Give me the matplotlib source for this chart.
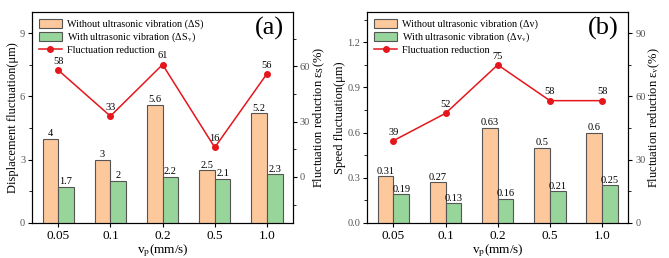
import numpy as np
import matplotlib.pyplot as plt
from matplotlib.ticker import MultipleLocator

plt.rcParams['font.family'] = ['Liberation Serif', 'DejaVu Serif']
plt.rcParams['mathtext.fontset'] = 'stix'

speeds = ['0.05', '0.1', '0.2', '0.5', '1.0']

# panel (a): displacement
disp_without = [4, 3, 5.6, 2.5, 5.2]
disp_with = [1.7, 2, 2.2, 2.1, 2.3]
disp_reduction = [58, 33, 61, 16, 56]

# panel (b): speed
speed_without = [0.31, 0.27, 0.63, 0.5, 0.6]
speed_with = [0.19, 0.13, 0.16, 0.21, 0.25]
speed_reduction = [39, 52, 75, 58, 58]

orange = '#FDC89B'
green = '#98D59A'
red = '#E5161C'
edge = '#555555'

fig = plt.figure(figsize=(6.69, 2.58), dpi=100)
ax_a = fig.add_axes([0.048, 0.136, 0.390, 0.817])
ax_b = fig.add_axes([0.549, 0.136, 0.390, 0.817])


def draw_panel(ax, without, with_, reduction, ylim, ymajor, rlim, lbls, ylabel, rlabel, tag):
    x = np.arange(len(speeds))
    w = 0.3
    b1 = ax.bar(x - w / 2, without, w, color=orange, edgecolor=edge, linewidth=0.8, zorder=2)
    b2 = ax.bar(x + w / 2, with_, w, color=green, edgecolor=edge, linewidth=0.8, zorder=2)
    ax.bar_label(b1, labels=[f'{v:g}' for v in without], padding=0.5, fontsize=7.5)
    ax.bar_label(b2, labels=[f'{v:g}' for v in with_], padding=0.5, fontsize=7.5)
    ax.set_xlim(-0.5, 4.5)
    ax.set_ylim(*ylim)
    ax.set_xticks(x)
    ax.set_xticklabels(speeds, fontsize=9.5)
    ax.yaxis.set_major_locator(MultipleLocator(ymajor))
    ax.yaxis.set_minor_locator(MultipleLocator(ymajor / 2))
    ax.tick_params(axis='y', labelsize=7.5, labelcolor='#555555', direction='out', length=3, pad=2)
    ax.tick_params(axis='y', which='minor', direction='out', length=2)
    ax.tick_params(axis='x', direction='out', length=3, pad=2)
    ax.set_xlabel('v$_\\mathrm{p}$(mm/s)', fontsize=9.5, labelpad=0)
    ax.set_ylabel(ylabel, fontsize=9, labelpad=1)

    ax2 = ax.twinx()
    ln, = ax2.plot(x, reduction, color=red, marker='o', markersize=4, linewidth=1.1, zorder=3)
    for xi, r in zip(x, reduction):
        ax2.annotate(str(r), (xi, r), xytext=(0, 3), textcoords='offset points',
                     ha='center', va='bottom', fontsize=7.5)
    ax2.set_ylim(*rlim)
    ax2.yaxis.set_major_locator(MultipleLocator(30))
    ax2.yaxis.set_minor_locator(MultipleLocator(15))
    ax2.tick_params(axis='y', labelsize=7.5, labelcolor='#555555', direction='out', length=3, pad=2)
    ax2.tick_params(axis='y', which='minor', direction='out', length=2)
    ax2.set_ylabel(rlabel, fontsize=9, labelpad=1)

    ax.legend([b1, b2, ln], [lbls[0], lbls[1], 'Fluctuation reduction'], loc='upper left',
              frameon=False, fontsize=7.3, handlelength=2.2, handleheight=0.95,
              borderaxespad=0.5, borderpad=0.2, labelspacing=0.12, handletextpad=0.5)
    ax.text(0.965, 0.975, tag, transform=ax.transAxes, ha='right', va='top', fontsize=19)
    ax.set_zorder(ax2.get_zorder() + 1)
    ax.patch.set_visible(False)


draw_panel(ax_a, disp_without, disp_with, disp_reduction, (0, 10), 3, (-25, 89.5),
           ['Without ultrasonic vibration (ΔS)', 'With ultrasonic vibration (ΔS$_\\mathrm{v}$)'],
           'Displacement fluctuation(μm)', 'Fluctuation reduction ε$_\\mathrm{S}$(%)', '(a)')
draw_panel(ax_b, speed_without, speed_with, speed_reduction, (0, 1.4), 0.3, (0, 100),
           ['Without ultrasonic vibration (Δv)', 'With ultrasonic vibration (Δv$_\\mathrm{v}$)'],
           'Speed fluctuation(μm)', 'Fluctuation reduction ε$_\\mathrm{v}$(%)', '(b)')
ax_b.yaxis.set_major_formatter(plt.FormatStrFormatter('%.1f'))

fig.savefig('out.png', dpi=100)
